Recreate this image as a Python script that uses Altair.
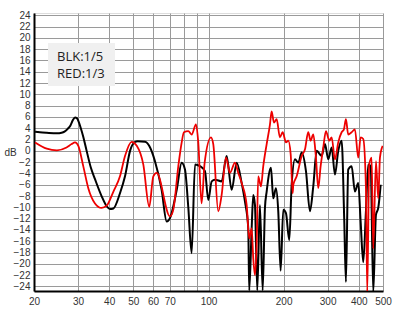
import altair as alt
import pandas as pd

# Black curve (BLK: 1/5 octave smoothing)
blk_freq = [20.2, 21.1, 22.5, 24.7, 25.8, 26.5, 27.3, 28.0, 28.6, 29.2, 29.7, 30.1, 30.8, 31.5,
            32.5, 33.8, 35.1, 37.3, 39.1, 40.3, 41.6,
            44.2, 46.3, 48.5, 50.8, 52.0, 55.7, 58.0, 61.0, 64.9, 68.0, 70.1, 74.6, 78.1, 80.5,
            83.0, 85.6, 88.3, 92.4, 96.8, 99.8, 103.0, 106.2, 112.9, 118.2, 123.8, 129.7, 135.8,
            140.0, 144.3, 145.6, 148.9, 151.1, 153.5, 156.8, 160.7, 164.8, 168.3, 171.0, 177.9,
            181.7, 186.3, 190.3, 194.5, 199.3, 204.3, 210.6, 215.3, 222.0, 228.9, 236.2, 245.7,
            254.9, 262.8, 271.2, 283.9, 292.7, 301.8, 311.4, 321.0, 330.9, 341.4, 349.7, 355.2,
            362.8, 374.4, 385.9, 397.9, 406.8, 416.7, 427.2, 436.4, 446.2, 457.0, 468.5, 478.6,
            489.3]
blk_db = [3.4, 3.3, 3.2, 3.1, 3.2, 3.4, 3.9, 4.5, 5.4, 5.9, 5.8, 5.3, 4.0, 2.5,
          0.0, -3.0, -5.0, -8.0, -9.8, -10.3, -10.2,
          -7.5, -4.5, 0.0, 1.6, 1.7, 1.6, 0.8, -1.8, -6.9, -12.5, -11.9, -6.9, -2.1, -3.3,
          -10.0, -18.1, -2.4, -2.7, -3.6, -8.7, -5.4, -5.1, -5.4, -0.9, -6.9, -2.1, -5.7,
          -9.0, -13.7, -24.7, -13.7, -7.8, -9.6, -24.7, -9.6, -24.7, -10.1, -7.2, -3.0,
          -8.4, -6.6, -10.7, -21.2, -10.4, -11.0, -15.8, -6.0, -1.5, -2.1, -0.3, -3.6,
          -10.7, -6.3, 0.0, -0.9, 1.2, -1.5, 0.6, -4.2, 0.0, 1.8, -12.2, -23.2,
          -3.3, -2.7, -7.2, -5.7, -12.5, -19.7, -10.7, -2.4, -2.7, -25.0, -11.3, -10.1,
          -6.0]

# Red curve (RED: 1/3 octave smoothing)
red_freq = [20.2, 22.5, 24.7, 27.0, 28.3, 29.2, 30.1, 31.5, 33.0, 35.1, 37.3, 39.1, 41.6, 44.2, 46.3,
            49.2, 51.6, 54.8, 57.9, 60.1, 62.0, 70.1, 72.3, 75.7, 78.1, 79.7, 83.0, 85.6, 89.1,
            91.0, 93.8, 96.5, 102.3, 104.5, 109.4, 112.9, 117.5, 121.9, 127.6, 131.6, 135.8,
            142.2, 145.6, 148.9, 151.1, 153.5, 155.9, 158.2, 162.2, 165.7, 171.0, 176.3, 179.0,
            182.9, 187.5, 193.2, 198.2, 204.3, 208.7, 213.4, 217.3, 218.6, 225.5, 236.2, 243.5,
            250.9, 256.5, 262.8, 269.4, 275.2, 281.3, 288.2, 295.4, 304.6, 311.4, 321.0, 330.9,
            341.4, 348.7, 355.2, 362.8, 374.4, 385.9, 397.9, 406.8, 416.7, 427.2, 432.4, 440.4,
            450.3, 457.0, 468.5, 478.6, 486.1, 498.4]
red_db = [1.5, 0.4, 0.1, 0.6, 1.2, 1.5, 0.9, -2.7, -6.6, -9.3, -10.1, -9.7, -7.2, -4.5, -0.9,
          1.6, 0.9, -2.4, -9.9, -4.5, -3.9, -11.6, -10.4, -2.7, 1.5, 3.3, 3.5, 2.9, 4.7,
          1.5, -9.3, -2.1, 2.4, 1.2, -10.7, -7.8, -1.2, -3.9, -2.1, -3.9, -5.7,
          -9.6, -15.5, -13.7, -19.0, -22.0, -16.7, -4.5, -6.3, -2.7, 1.2, 4.7, 7.0,
          5.0, 5.6, 2.4, 3.3, 1.5, 1.8, -0.6, -7.5, -6.0, -4.5, -0.9, 0.3,
          3.3, 1.8, 2.9, -1.2, -6.6, -2.7, 0.6, 3.5, 1.8, 2.4, -1.5, 1.5,
          3.3, 3.8, 5.6, 2.9, 3.3, 3.8, -1.2, 2.4, 2.1, -6.6, -25.0, -2.4,
          -1.2, -17.3, -1.8, -8.4, -1.2, 0.9]

x_ticks = [20, 30, 40, 50, 60, 70, 80, 90, 100, 200, 300, 400, 500]
y_ticks = list(range(-24, 25, 2))
legend_lines = ["BLK:1/5", "RED:1/3"]

df = pd.concat([
    pd.DataFrame({"f": blk_freq, "db": blk_db, "s": "BLK", "i": range(len(blk_freq))}),
    pd.DataFrame({"f": red_freq, "db": red_db, "s": "RED", "i": range(len(red_freq))}),
])

xs = alt.Scale(type="log", domain=[20, 500], nice=False)
ys = alt.Scale(domain=[-24.8, 24.4], nice=False, zero=False)

x_axis = alt.Axis(values=x_ticks, format="d", grid=True, ticks=False, title=None,
                  labelExpr="(datum.value==80||datum.value==90) ? '' : datum.label",
                  labelPadding=5, labelOverlap=False, labelFlush=False, labelBound=False,
                  domainColor="#000", domainWidth=2,
                  gridColor="#9a9a9a", gridWidth=1, gridOpacity=1,
                  labelFont="Liberation Sans", labelFontSize=10, labelColor="#333")
y_axis = alt.Axis(values=y_ticks, format="d", grid=True, ticks=False, title="dB", titleAngle=0,
                  titleX=-24, titleY=139, titleAlign="center", titleBaseline="middle",
                  titleFont="Liberation Sans", titleFontSize=10, titleFontWeight="normal",
                  titleColor="#333", labelPadding=4, labelOverlap=False, labelFlush=False,
                  labelBound=False, domainColor="#000", domainWidth=2,
                  gridColor="#9a9a9a", gridWidth=1, gridOpacity=1,
                  labelFont="Liberation Sans", labelFontSize=10, labelColor="#333")

base = alt.Chart(df)
blk = base.transform_filter("datum.s=='BLK'").mark_line(
    color="#000000", strokeWidth=2, clip=True, interpolate="monotone").encode(
    x=alt.X("f:Q", scale=xs, axis=x_axis),
    y=alt.Y("db:Q", scale=ys, axis=y_axis),
    order="i:Q",
)
red = base.transform_filter("datum.s=='RED'").mark_line(
    color="#ee0000", strokeWidth=1.8, clip=True, interpolate="monotone").encode(
    x=alt.X("f:Q", scale=xs, axis=x_axis),
    y=alt.Y("db:Q", scale=ys, axis=y_axis),
    order="i:Q",
)

box = alt.Chart(pd.DataFrame({"a": [0]})).mark_rect(color="#f0f0f0", opacity=1).encode(
    x=alt.value(14), x2=alt.value(81), y=alt.value(30), y2=alt.value(73)
)
leg1 = alt.Chart(pd.DataFrame({"t": [legend_lines[0]]})).mark_text(
    align="left", baseline="middle", font="Open Sans", fontSize=13, color="#222"
).encode(x=alt.value(23), y=alt.value(43.5), text="t:N")
leg2 = alt.Chart(pd.DataFrame({"t": [legend_lines[1]]})).mark_text(
    align="left", baseline="middle", font="Open Sans", fontSize=13, color="#222"
).encode(x=alt.value(23), y=alt.value(60.5), text="t:N")

chart = alt.layer(blk, red, box, leg1, leg2).properties(
    width=349, height=278,
    autosize=alt.AutoSizeParams(type="none"),
    padding={"left": 34, "top": 13, "right": 17, "bottom": 24},
).configure_view(stroke="#555", strokeWidth=1).configure(background="white")

chart.save("out.html", embed_options={"renderer": "svg", "actions": False})
